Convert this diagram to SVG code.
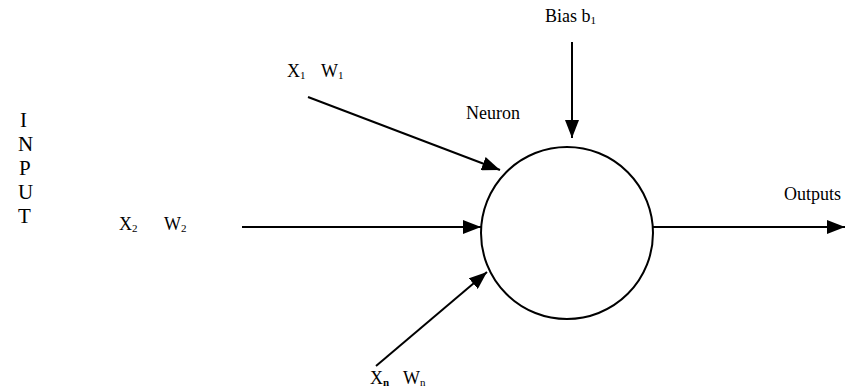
<svg xmlns="http://www.w3.org/2000/svg" width="854" height="390" viewBox="0 0 854 390">
<style>
text{font-family:"Liberation Serif","Times New Roman",serif;fill:#000}
.lbl{font-size:18px}
.big{font-size:21px}
.sub{font-size:11px}
.ln{stroke:#000;stroke-width:2;fill:none}
</style>
<defs>
<marker id="ah2" viewBox="0 0 18 14" refX="18" refY="7" markerWidth="18" markerHeight="14" orient="auto" markerUnits="userSpaceOnUse">
<path d="M0,0 L18,7 L0,14 Z" fill="#000"/>
</marker>
</defs>
<rect width="854" height="390" fill="#fff"/>
<g id="input-label">
<text class="big" x="20" y="127">I</text>
<text class="big" x="18" y="151">N</text>
<text class="big" x="19" y="175">P</text>
<text class="big" x="18" y="199">U</text>
<text class="big" x="18" y="223">T</text>
</g>
<g id="neuron">
<circle cx="567" cy="233" r="86" fill="#fff" stroke="#000" stroke-width="2"/>
<text class="lbl" x="466" y="119">Neuron</text>
</g>
<g id="input1">
<text class="lbl" x="287" y="77">X<tspan class="sub" dy="2">1</tspan></text>
<text class="lbl" x="321" y="77">W<tspan class="sub" dy="2">1</tspan></text>
</g>
<g id="input2">
<text class="lbl" x="119" y="230">X<tspan class="sub" dy="2">2</tspan></text>
<text class="lbl" x="164" y="230">W<tspan class="sub" dy="2">2</tspan></text>
</g>
<g id="inputn">
<text class="lbl" x="370" y="384">X<tspan class="sub" dy="2" font-weight="bold">n</tspan></text>
<text class="lbl" x="403" y="384">W<tspan class="sub" dy="2">n</tspan></text>
</g>
<g id="bias">
<text class="lbl" x="545" y="22">Bias b<tspan class="sub" dy="2">1</tspan></text>
</g>
<g id="outputs">
<text class="lbl" x="784" y="200">Outputs</text>
</g>
<g id="connectors">
<line class="ln" x1="308" y1="97" x2="500" y2="170" marker-end="url(#ah2)"/>
<line class="ln" x1="242" y1="227" x2="481" y2="227" marker-end="url(#ah2)"/>
<line class="ln" x1="376" y1="366" x2="487" y2="272" marker-end="url(#ah2)"/>
<line class="ln" x1="572" y1="42" x2="572" y2="138" marker-end="url(#ah2)"/>
<line class="ln" x1="653" y1="227" x2="845" y2="227" marker-end="url(#ah2)"/>
</g>
</svg>
